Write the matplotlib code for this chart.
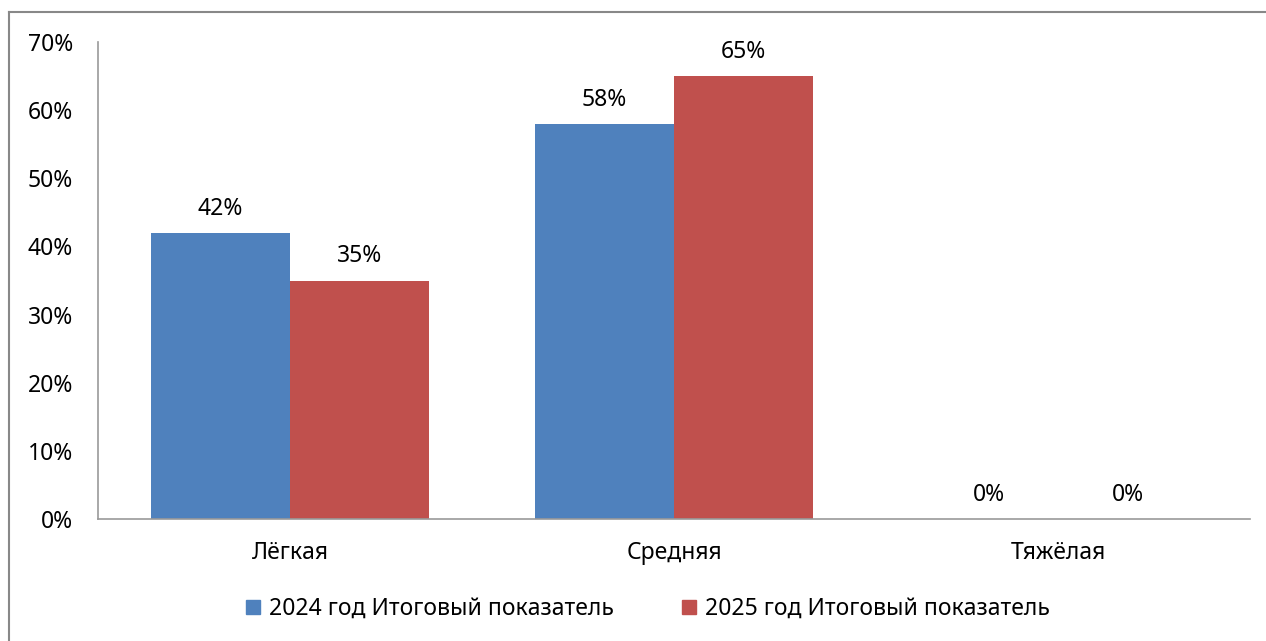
import numpy as np
import matplotlib.pyplot as plt
from matplotlib.lines import Line2D
from matplotlib.patches import Patch

categories = ['Лёгкая', 'Средняя', 'Тяжёлая']
series_names = ['2024 год Итоговый показатель', '2025 год Итоговый показатель']
v2024 = [42, 58, 0]
v2025 = [35, 65, 0]
yticks = [0, 10, 20, 30, 40, 50, 60, 70]

blue = '#4F81BD'
red = '#C0504D'
plt.rcParams['font.family'] = ['Noto Sans', 'DejaVu Sans']
fs = 16.5

fig = plt.figure(figsize=(12.66, 6.41), dpi=100)
ax = fig.add_axes([98/1266, 1-519/641, (1250-98)/1266, (519-42)/641])

x = np.arange(len(categories))
w = 0.362
b1 = ax.bar(x - w/2, v2024, w, color=blue, label=series_names[0])
b2 = ax.bar(x + w/2, v2025, w, color=red, label=series_names[1])

for bars, vals in ((b1, v2024), (b2, v2025)):
    for r, v in zip(bars, vals):
        ax.text(r.get_x() + r.get_width()/2, v + 1.8, f'{v}%',
                ha='center', va='bottom', fontsize=fs)

ax.set_xlim(-0.5, 2.5)
ax.set_ylim(0, 70)
ax.set_yticks(yticks)
ax.set_yticklabels([f'{t}%' for t in yticks], fontsize=fs)
ax.set_xticks(x)
ax.set_xticklabels(categories, fontsize=fs)
ax.tick_params(axis='both', length=0)
ax.tick_params(axis='y', pad=18)
ax.tick_params(axis='x', pad=16)
for s in ('top', 'right'):
    ax.spines[s].set_visible(False)
for s in ('left', 'bottom'):
    ax.spines[s].set_color('#999999')
    ax.spines[s].set_linewidth(1.2)

handles = [Patch(color=blue), Patch(color=red)]
fig.legend(handles, series_names, loc='center', bbox_to_anchor=(648/1266, 1-609/641),
           ncol=2, frameon=False, fontsize=fs, handlelength=0.6, handleheight=0.6,
           handletextpad=0.4, columnspacing=3.0)

# outer frame
fig.add_artist(Line2D([9/1266, 9/1266], [0, 1-12/641], color='#888888', lw=1.5))
fig.add_artist(Line2D([9/1266, 1], [1-12/641, 1-12/641], color='#888888', lw=1.5))

fig.savefig('out.png', dpi=100)
